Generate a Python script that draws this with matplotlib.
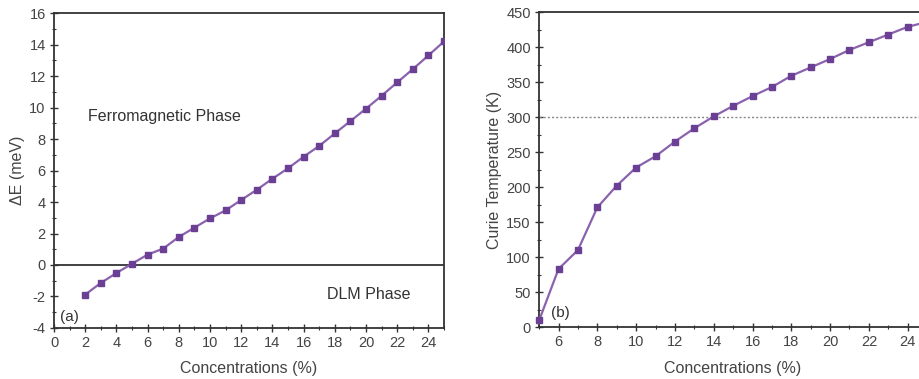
import matplotlib
matplotlib.use("Agg")
import matplotlib.pyplot as plt
from matplotlib.ticker import MultipleLocator

plt.rcParams["font.family"] = ["Liberation Sans", "DejaVu Sans"]
plt.rcParams["axes.unicode_minus"] = False

# panel (a): energy difference vs concentration
conc_a = list(range(2, 26))
delta_e = [-1.88, -1.14, -0.51, 0.08, 0.66, 1.04, 1.78, 2.37, 2.96, 3.47,
           4.13, 4.78, 5.48, 6.14, 6.88, 7.56, 8.36, 9.14, 9.93, 10.75,
           11.6, 12.44, 13.31, 14.2]

# panel (b): Curie temperature vs concentration
conc_b = list(range(5, 26))
curie_t = [9.5, 83, 110, 171, 202, 228, 244, 265, 284, 301, 316, 330, 343,
           359, 371, 383, 396, 407, 418, 429, 436]

LINE = "#8a62ae"
MARK = "#6a3f94"
AXC = "#333333"
TXT = "#444444"

fig = plt.figure(figsize=(9.2, 3.79), dpi=100)
ax1 = fig.add_axes([0.0587, 0.1346, 0.424, 0.831])
ax2 = fig.add_axes([0.586, 0.137, 0.4217, 0.831])


def style(ax):
    for s in ax.spines.values():
        s.set_color(AXC)
        s.set_linewidth(1.3)
    ax.tick_params(which="major", direction="inout", length=6, width=1,
                   color=AXC, labelcolor=TXT, labelsize=10.5, pad=3)
    ax.tick_params(which="minor", direction="inout", length=3.5, width=0.8,
                   color=AXC)
    ax.tick_params(top=False, right=False, which="both")


ax1.plot(conc_a, delta_e, color=LINE, lw=1.6, marker="s", ms=5,
         mfc=MARK, mec=MARK, zorder=3)
ax1.axhline(0, color=AXC, lw=1.3, zorder=2)
ax1.set_xlim(0, 25)
ax1.set_ylim(-4, 16)
ax1.xaxis.set_major_locator(MultipleLocator(2))
ax1.xaxis.set_minor_locator(MultipleLocator(1))
ax1.yaxis.set_major_locator(MultipleLocator(2))
ax1.yaxis.set_minor_locator(MultipleLocator(1))
ax1.set_xlabel("Concentrations (%)", fontsize=11.5, color=TXT, labelpad=8)
ax1.set_ylabel("ΔE (meV)", fontsize=11.5, color=TXT, labelpad=3)
ax1.text(2.2, 9.4, "Ferromagnetic Phase", fontsize=11.5, color="#333333",
         va="center", ha="left")
ax1.text(17.5, -1.9, "DLM Phase", fontsize=11.5, color="#333333",
         va="center", ha="left")
ax1.text(0.4, -3.3, "(a)", fontsize=11, color="#333333", va="center")
style(ax1)

ax2.plot(conc_b, curie_t, color=LINE, lw=1.6, marker="s", ms=5,
         mfc=MARK, mec=MARK, zorder=3, clip_on=False)
ax2.axhline(300, color="#888888", lw=1.0, ls=(0, (1.5, 1.5)), zorder=2)
ax2.set_xlim(5, 25)
ax2.set_ylim(0, 450)
ax2.xaxis.set_minor_locator(MultipleLocator(1))
ax2.set_xticks(list(range(6, 26, 2)))
ax2.yaxis.set_major_locator(MultipleLocator(50))
ax2.yaxis.set_minor_locator(MultipleLocator(25))
ax2.set_xlabel("Concentrations (%)", fontsize=11.5, color=TXT, labelpad=8)
ax2.set_ylabel("Curie Temperature (K)", fontsize=11.5, color=TXT, labelpad=3)
ax2.text(5.6, 20, "(b)", fontsize=11, color="#333333", va="center")
style(ax2)

fig.savefig("out.png", dpi=100)
